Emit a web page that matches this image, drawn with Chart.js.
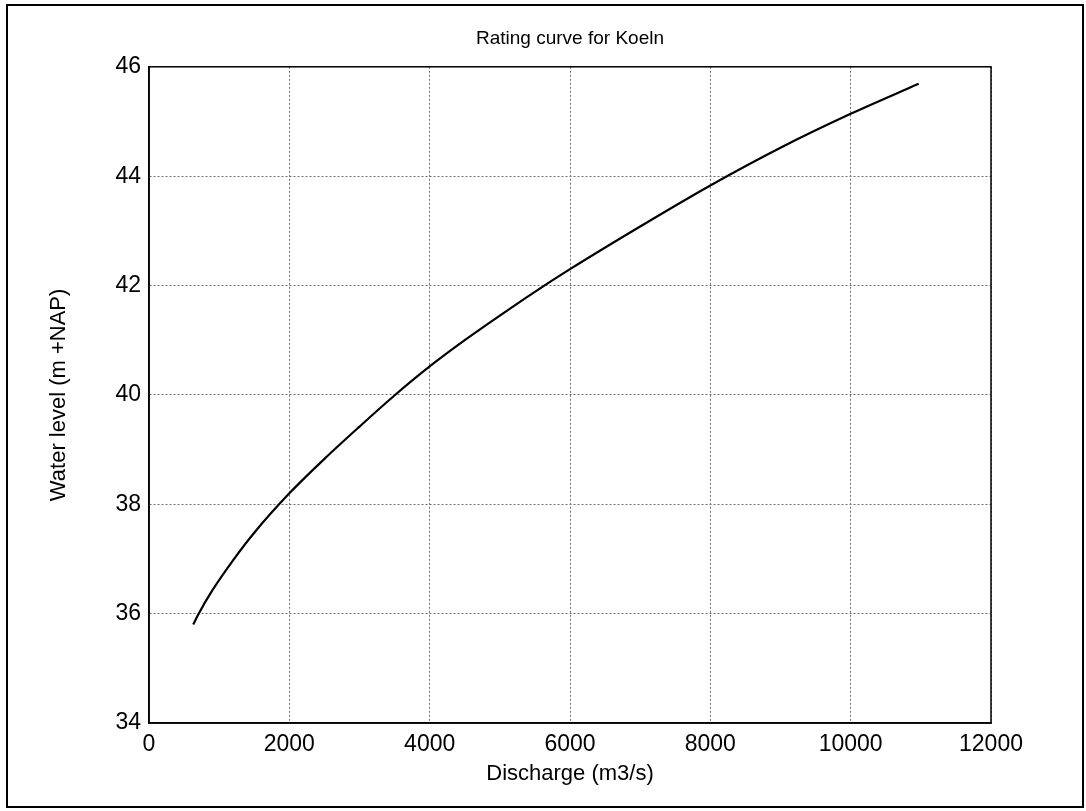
<!DOCTYPE html>
<html>
<head>
<meta charset="utf-8">
<title>Rating curve for Koeln</title>
<script src="https://cdn.jsdelivr.net/npm/chart.js@4"></script>
<style>
    html, body { margin: 0; padding: 0; background: #fff; }
    #wrap { position: relative; width: 1086px; height: 811px; }
    #frame {
        position: absolute; left: 6px; top: 4px;
        width: 1074px; height: 800px;
        border: 2px solid #000;
        pointer-events: none;
    }
</style>
</head>
<body>
<div id="wrap">
    <canvas id="ratingChart" width="1086" height="811"></canvas>
    <div id="frame"></div>
</div>
<script>
// ===== Rating curve data (discharge in m3/s, water level in m +NAP) =====

var discharge  = [630, 700, 900, 1200, 1500, 2000, 2500, 3000, 3490, 4000, 4500, 5000, 5660, 6000, 7000, 8000, 9000, 10000, 10970];
var waterLevel = [35.80, 35.98, 36.42, 36.98, 37.48, 38.20, 38.83, 39.42, 39.98, 40.52, 41.00, 41.45, 42.02, 42.30, 43.08, 43.83, 44.52, 45.14, 45.69];

var xTicks = [0, 2000, 4000, 6000, 8000, 10000, 12000];
var yTicks = [34, 36, 38, 40, 42, 44, 46];

var points = [];
for (var i = 0; i < discharge.length; i++) {
    points.push({ x: discharge[i], y: waterLevel[i] });
}

var FONT = 'Arial, "Liberation Sans", Helvetica, sans-serif';

// box round the plot area (top and right edges too)
var axesBox = {
    id: 'axesBox',
    afterDraw: function(chart) {
        var a = chart.chartArea, ctx = chart.ctx;
        ctx.save();
        ctx.strokeStyle = '#000';
        ctx.lineWidth = 1.5;
        ctx.strokeRect(a.left, a.top, a.right - a.left, a.bottom - a.top);
        ctx.restore();
    }
};

// center the title over the plot area instead of the whole canvas
var titleOverAxes = {
    id: 'titleOverAxes',
    afterLayout: function(chart) {
        var t = chart.titleBlock, a = chart.chartArea;
        if (!t || !a) return;
        t.left = a.left;
        t.right = a.right;
        t.width = a.right - a.left;
    }
};

function plainTick(v) { return String(v); }

var gridOpts = { color: '#6e6e6e', lineWidth: 1, drawTicks: false };
var borderOpts = { display: true, color: '#000', width: 1.5, dash: [2, 2] };

new Chart(document.getElementById('ratingChart'), {
    type: 'line',
    data: {
        datasets: [{
            label: 'Rating curve',
            data: points,
            borderColor: '#000',
            borderWidth: 2.2,
            pointRadius: 0,
            fill: false,
            cubicInterpolationMode: 'monotone'
        }]
    },
    options: {
        responsive: false,
        animation: false,
        layout: { padding: { left: 42, right: 95, top: 0, bottom: 20 } },
        plugins: {
            legend: { display: false },
            tooltip: { enabled: false },
            title: {
                display: true,
                text: 'Rating curve for Koeln',
                color: '#000',
                font: { family: FONT, size: 19, weight: 'normal' },
                padding: { top: 27, bottom: 17 }
            }
        },
        scales: {
            x: {
                type: 'linear',
                min: xTicks[0],
                max: xTicks[xTicks.length - 1],
                afterBuildTicks: function(s) { s.ticks = xTicks.map(function(v) { return { value: v }; }); },
                afterFit: function(s) { s.height = 68; },
                ticks: { color: '#000', font: { family: FONT, size: 23 }, padding: 8, maxRotation: 0, callback: plainTick },
                grid: gridOpts,
                border: borderOpts,
                title: {
                    display: true,
                    text: 'Discharge (m3/s)',
                    color: '#000',
                    font: { family: FONT, size: 22 },
                    padding: { top: 0, bottom: 4 }
                }
            },
            y: {
                type: 'linear',
                min: yTicks[0],
                max: yTicks[yTicks.length - 1],
                afterBuildTicks: function(s) { s.ticks = yTicks.map(function(v) { return { value: v }; }); },
                afterFit: function(s) { s.width = 107; },
                ticks: { color: '#000', font: { family: FONT, size: 23 }, padding: 8, callback: plainTick },
                grid: gridOpts,
                border: borderOpts,
                title: {
                    display: true,
                    text: 'Water level (m +NAP)',
                    color: '#000',
                    font: { family: FONT, size: 22 },
                    padding: { top: 4, bottom: 0 }
                }
            }
        }
    },
    plugins: [titleOverAxes, axesBox]
});
</script>
</body>
</html>
